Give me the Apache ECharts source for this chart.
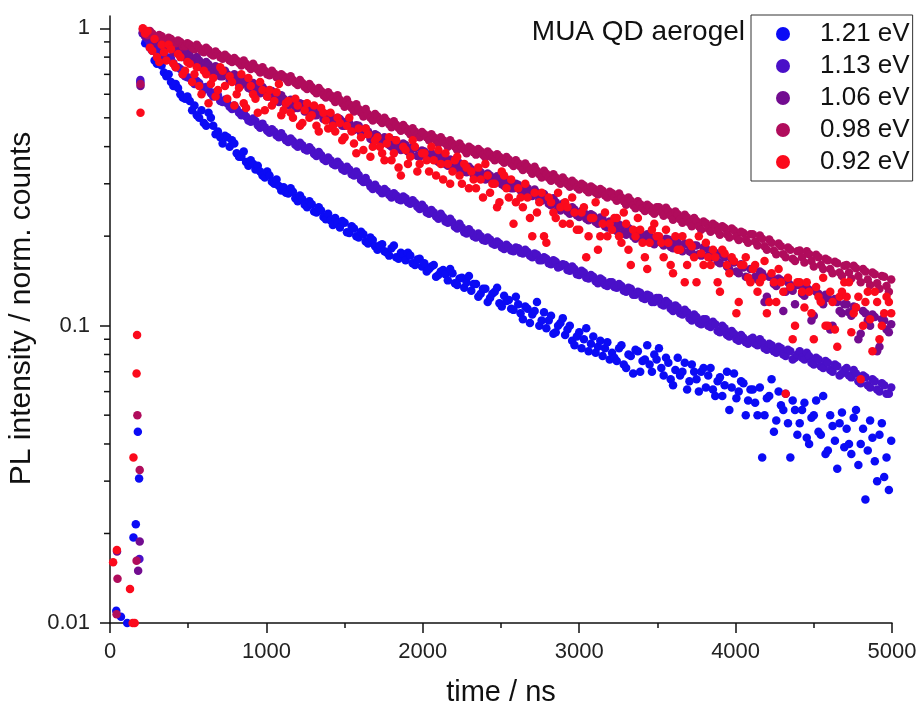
<!DOCTYPE html>
<html><head><meta charset="utf-8">
<script src="https://cdn.jsdelivr.net/npm/echarts@6/dist/echarts.min.js"></script>
<style>html,body{margin:0;padding:0;background:#fff}#c{width:919px;height:707px}</style>
</head><body><div id="c"></div>
<script>
// time bins (ns), even set
const times = [210,240,270,300,330,360,390,420,450,480,
510,540,570,600,630,660,690,720,750,780,
810,840,870,900,930,960,990,1020,1050,1080,
1110,1140,1170,1200,1230,1260,1290,1320,1350,1380,
1410,1440,1470,1500,1530,1560,1590,1620,1650,1680,
1710,1740,1770,1800,1830,1860,1890,1920,1950,1980,
2010,2040,2070,2100,2130,2160,2190,2220,2250,2280,
2310,2340,2370,2400,2430,2460,2490,2520,2550,2580,
2610,2640,2670,2700,2730,2760,2790,2820,2850,2880,
2910,2940,2970,3000,3030,3060,3090,3120,3150,3180,
3210,3240,3270,3300,3330,3360,3390,3420,3450,3480,
3510,3540,3570,3600,3630,3660,3690,3720,3750,3780,
3810,3840,3870,3900,3930,3960,3990,4020,4050,4080,
4110,4140,4170,4200,4230,4260,4290,4320,4350,4380,
4410,4440,4470,4500,4530,4560,4590,4620,4650,4680,
4710,4740,4770,4800,4830,4860,4890,4920,4950,4980];
// time bins (ns), odd set
const timesB = [225,255,285,315,345,375,405,435,465,495,
525,555,585,615,645,675,705,735,765,795,
825,855,885,915,945,975,1005,1035,1065,1095,
1125,1155,1185,1215,1245,1275,1305,1335,1365,1395,
1425,1455,1485,1515,1545,1575,1605,1635,1665,1695,
1725,1755,1785,1815,1845,1875,1905,1935,1965,1995,
2025,2055,2085,2115,2145,2175,2205,2235,2265,2295,
2325,2355,2385,2415,2445,2475,2505,2535,2565,2595,
2625,2655,2685,2715,2745,2775,2805,2835,2865,2895,
2925,2955,2985,3015,3045,3075,3105,3135,3165,3195,
3225,3255,3285,3315,3345,3375,3405,3435,3465,3495,
3525,3555,3585,3615,3645,3675,3705,3735,3765,3795,
3825,3855,3885,3915,3945,3975,4005,4035,4065,4095,
4125,4155,4185,4215,4245,4275,4305,4335,4365,4395,
4425,4455,4485,4515,4545,4575,4605,4635,4665,4695,
4725,4755,4785,4815,4845,4875,4905,4935,4965,4995];

const seriesNames = ['1.21 eV','1.13 eV','1.06 eV','0.98 eV','0.92 eV'];
const seriesColors = ['#0b0bf5','#4a10c8','#720c90','#b00c5c','#fb0a1c'];

const pl121 = [0.96,0.90,0.84,0.76,0.75,0.69,0.66,0.65,0.60,0.58,
0.57,0.55,0.50,0.48,0.52,0.47,0.45,0.41,0.43,0.42,
0.38,0.37,0.355,0.36,0.335,0.33,0.315,0.32,0.30,0.295,
0.292,0.278,0.282,0.262,0.266,0.25,0.256,0.24,0.244,0.228,
0.226,0.23,0.214,0.222,0.205,0.212,0.198,0.203,0.189,0.194,
0.18,0.188,0.176,0.182,0.17,0.176,0.166,0.172,0.16,0.168,
0.162,0.155,0.16,0.148,0.154,0.142,0.15,0.137,0.145,0.14,
0.131,0.138,0.128,0.133,0.124,0.13,0.119,0.126,0.122,0.113,
0.118,0.105,0.114,0.109,0.12,0.104,0.098,0.108,0.095,0.102,
0.093,0.1,0.086,0.095,0.09,0.082,0.092,0.085,0.079,0.088,
0.081,0.076,0.086,0.072,0.079,0.083,0.07,0.077,0.074,0.08,
0.084,0.068,0.075,0.063,0.078,0.07,0.061,0.074,0.066,0.07,
0.062,0.072,0.058,0.067,0.063,0.052,0.069,0.06,0.064,0.056,
0.061,0.05,0.036,0.057,0.066,0.048,0.054,0.059,0.036,0.052,
0.047,0.055,0.04,0.05,0.044,0.058,0.038,0.046,0.033,0.051,
0.045,0.037,0.052,0.04,0.026,0.048,0.035,0.043,0.031,0.028];
const pl121b = [0.89,0.86,0.78,0.78,0.71,0.70,0.64,0.63,0.585,0.59,
0.53,0.51,0.53,0.47,0.50,0.44,0.43,0.435,0.40,0.41,
0.37,0.385,0.345,0.35,0.345,0.32,0.33,0.305,0.31,0.285,
0.28,0.29,0.268,0.274,0.255,0.262,0.242,0.25,0.232,0.238,
0.218,0.222,0.225,0.206,0.216,0.2,0.207,0.192,0.198,0.185,
0.186,0.178,0.172,0.186,0.168,0.174,0.176,0.162,0.167,0.158,
0.152,0.158,0.146,0.152,0.149,0.155,0.139,0.144,0.134,0.147,
0.138,0.125,0.133,0.12,0.128,0.134,0.116,0.121,0.114,0.125,
0.11,0.116,0.102,0.112,0.1,0.111,0.104,0.094,0.1,0.106,
0.097,0.089,0.092,0.084,0.098,0.087,0.081,0.089,0.084,0.077,
0.078,0.084,0.074,0.08,0.069,0.082,0.076,0.086,0.07,0.077,
0.072,0.078,0.066,0.071,0.068,0.075,0.065,0.07,0.06,0.072,
0.068,0.061,0.065,0.058,0.07,0.062,0.057,0.065,0.05,0.061,
0.055,0.062,0.05,0.058,0.044,0.06,0.052,0.047,0.056,0.043,
0.052,0.042,0.049,0.056,0.043,0.037,0.05,0.041,0.047,0.039,
0.04,0.049,0.034,0.045,0.038,0.042,0.03,0.047,0.036,0.041];

const pl113 = [0.96,0.92,0.91,0.86,0.85,0.80,0.79,0.74,0.73,0.69,
0.68,0.65,0.655,0.62,0.625,0.59,0.595,0.565,0.56,0.535,
0.535,0.51,0.505,0.485,0.488,0.463,0.465,0.445,0.45,0.43,
0.432,0.415,0.418,0.4,0.404,0.388,0.39,0.372,0.375,0.358,
0.36,0.346,0.348,0.332,0.335,0.32,0.321,0.304,0.303,0.288,
0.29,0.279,0.283,0.27,0.274,0.264,0.268,0.257,0.259,0.247,
0.249,0.238,0.24,0.229,0.232,0.222,0.223,0.212,0.214,0.204,
0.206,0.198,0.2,0.193,0.195,0.187,0.189,0.181,0.184,0.178,
0.182,0.175,0.177,0.17,0.173,0.166,0.168,0.161,0.164,0.158,
0.16,0.153,0.155,0.148,0.151,0.144,0.146,0.139,0.142,0.136,
0.14,0.134,0.136,0.13,0.133,0.127,0.129,0.123,0.126,0.12,
0.124,0.117,0.119,0.112,0.115,0.109,0.111,0.104,0.107,0.101,
0.105,0.099,0.101,0.095,0.098,0.092,0.094,0.089,0.091,0.087,
0.091,0.086,0.088,0.083,0.086,0.081,0.084,0.079,0.082,0.078,
0.082,0.077,0.079,0.074,0.077,0.072,0.075,0.07,0.073,0.069,
0.072,0.067,0.069,0.064,0.067,0.062,0.065,0.06,0.063,0.059];
const pl113b = [0.94,0.89,0.88,0.845,0.82,0.795,0.765,0.74,0.70,0.685,
0.665,0.665,0.635,0.635,0.605,0.61,0.57,0.575,0.545,0.55,
0.52,0.52,0.49,0.497,0.472,0.478,0.452,0.458,0.436,0.444,
0.42,0.426,0.406,0.412,0.392,0.398,0.378,0.384,0.363,0.368,
0.35,0.356,0.336,0.342,0.323,0.33,0.309,0.314,0.294,0.298,
0.284,0.288,0.275,0.279,0.266,0.272,0.26,0.264,0.251,0.255,
0.24,0.245,0.233,0.238,0.224,0.229,0.215,0.22,0.206,0.211,
0.2,0.204,0.194,0.198,0.189,0.192,0.183,0.187,0.179,0.183,
0.176,0.18,0.172,0.175,0.166,0.17,0.162,0.166,0.157,0.161,
0.154,0.158,0.149,0.153,0.145,0.148,0.141,0.144,0.137,0.14,
0.135,0.138,0.131,0.134,0.127,0.13,0.124,0.127,0.12,0.124,
0.118,0.121,0.114,0.117,0.11,0.113,0.106,0.109,0.102,0.105,
0.1,0.103,0.096,0.1,0.093,0.096,0.09,0.093,0.088,0.09,
0.087,0.09,0.084,0.087,0.082,0.085,0.08,0.083,0.077,0.08,
0.078,0.081,0.075,0.078,0.073,0.076,0.071,0.074,0.068,0.071,
0.068,0.071,0.065,0.068,0.063,0.066,0.061,0.064,0.059,0.062];

const pl106 = [0.97,0.94,0.94,0.90,0.90,0.86,0.87,0.83,0.84,0.80,
0.81,0.77,0.78,0.74,0.755,0.71,0.72,0.69,0.70,0.665,
0.68,0.645,0.66,0.625,0.64,0.605,0.62,0.59,0.60,0.565,
0.58,0.55,0.57,0.54,0.555,0.525,0.54,0.51,0.52,0.495,
0.51,0.48,0.495,0.47,0.48,0.455,0.47,0.44,0.45,0.42,
0.435,0.41,0.425,0.40,0.415,0.39,0.405,0.38,0.395,0.37,
0.385,0.365,0.375,0.355,0.368,0.345,0.358,0.337,0.346,0.328,
0.336,0.32,0.328,0.31,0.32,0.302,0.312,0.295,0.305,0.29,
0.298,0.282,0.29,0.273,0.28,0.263,0.27,0.254,0.26,0.244,
0.252,0.238,0.246,0.232,0.24,0.226,0.234,0.22,0.228,0.214,
0.222,0.208,0.216,0.202,0.21,0.196,0.205,0.193,0.2,0.188,
0.198,0.186,0.195,0.182,0.19,0.178,0.188,0.176,0.186,0.172,
0.182,0.17,0.176,0.162,0.17,0.155,0.163,0.15,0.157,0.145,
0.155,0.143,0.15,0.125,0.146,0.136,0.142,0.13,0.137,0.118,
0.137,0.126,0.132,0.108,0.128,0.118,0.124,0.1,0.12,0.11,
0.118,0.108,0.115,0.094,0.11,0.1,0.107,0.085,0.104,0.095];
const pl106b = [0.94,0.96,0.90,0.92,0.86,0.89,0.83,0.86,0.80,0.83,
0.775,0.80,0.74,0.77,0.72,0.745,0.69,0.72,0.67,0.70,
0.65,0.675,0.63,0.655,0.61,0.635,0.59,0.615,0.57,0.595,
0.555,0.575,0.54,0.56,0.525,0.545,0.51,0.53,0.495,0.515,
0.485,0.5,0.47,0.487,0.455,0.472,0.445,0.46,0.425,0.44,
0.415,0.43,0.405,0.42,0.395,0.41,0.385,0.4,0.372,0.388,
0.37,0.38,0.36,0.372,0.35,0.362,0.34,0.352,0.33,0.342,
0.322,0.333,0.315,0.325,0.306,0.318,0.299,0.31,0.29,0.3,
0.285,0.296,0.276,0.287,0.266,0.277,0.257,0.268,0.247,0.257,
0.242,0.25,0.235,0.243,0.229,0.237,0.223,0.231,0.216,0.224,
0.211,0.219,0.205,0.213,0.2,0.208,0.196,0.203,0.19,0.198,
0.19,0.196,0.184,0.192,0.18,0.189,0.178,0.186,0.174,0.183,
0.172,0.179,0.164,0.173,0.158,0.167,0.152,0.161,0.146,0.155,
0.146,0.152,0.12,0.146,0.138,0.144,0.112,0.14,0.131,0.137,
0.128,0.134,0.104,0.13,0.121,0.127,0.097,0.123,0.112,0.118,
0.111,0.116,0.09,0.112,0.104,0.109,0.082,0.105,0.097,0.101];

const pl098 = [0.99,0.95,0.96,0.93,0.94,0.91,0.92,0.89,0.90,0.87,
0.88,0.85,0.86,0.83,0.845,0.81,0.82,0.79,0.80,0.77,
0.78,0.75,0.76,0.73,0.74,0.71,0.72,0.695,0.705,0.68,
0.69,0.66,0.67,0.645,0.655,0.625,0.635,0.605,0.615,0.585,
0.595,0.565,0.575,0.545,0.555,0.525,0.535,0.505,0.515,0.49,
0.505,0.48,0.488,0.465,0.474,0.452,0.462,0.44,0.45,0.43,
0.44,0.42,0.43,0.41,0.42,0.4,0.41,0.39,0.4,0.38,
0.394,0.376,0.386,0.368,0.378,0.36,0.37,0.353,0.362,0.344,
0.352,0.334,0.342,0.324,0.332,0.315,0.324,0.307,0.315,0.3,
0.308,0.293,0.302,0.287,0.296,0.281,0.29,0.276,0.284,0.27,
0.279,0.263,0.27,0.255,0.263,0.248,0.256,0.243,0.251,0.238,
0.25,0.234,0.243,0.227,0.237,0.222,0.231,0.216,0.225,0.21,
0.221,0.207,0.217,0.202,0.213,0.198,0.209,0.194,0.205,0.19,
0.203,0.186,0.196,0.18,0.19,0.174,0.185,0.17,0.18,0.165,
0.179,0.163,0.174,0.158,0.17,0.155,0.166,0.15,0.162,0.147,
0.16,0.144,0.156,0.14,0.152,0.137,0.149,0.133,0.146,0.13];
const pl098b = [0.97,0.98,0.93,0.95,0.91,0.93,0.89,0.91,0.87,0.89,
0.86,0.88,0.84,0.86,0.82,0.835,0.80,0.815,0.78,0.795,
0.765,0.78,0.745,0.76,0.725,0.74,0.70,0.72,0.685,0.70,
0.675,0.69,0.655,0.67,0.635,0.65,0.615,0.63,0.595,0.61,
0.58,0.595,0.56,0.575,0.54,0.555,0.52,0.535,0.50,0.515,
0.49,0.5,0.476,0.487,0.462,0.473,0.45,0.461,0.438,0.448,
0.43,0.44,0.42,0.43,0.41,0.42,0.4,0.41,0.39,0.4,
0.383,0.393,0.375,0.385,0.367,0.377,0.359,0.369,0.351,0.36,
0.342,0.351,0.333,0.342,0.323,0.332,0.314,0.323,0.306,0.315,
0.299,0.307,0.292,0.3,0.286,0.294,0.28,0.288,0.274,0.282,
0.27,0.278,0.262,0.27,0.254,0.262,0.248,0.255,0.242,0.25,
0.241,0.249,0.234,0.242,0.228,0.236,0.222,0.23,0.216,0.224,
0.212,0.22,0.208,0.216,0.203,0.212,0.199,0.207,0.195,0.203,
0.192,0.201,0.185,0.195,0.179,0.189,0.174,0.183,0.168,0.178,
0.17,0.178,0.165,0.173,0.16,0.168,0.155,0.164,0.151,0.159,
0.151,0.159,0.147,0.155,0.143,0.151,0.139,0.147,0.136,0.143];

const pl092 = [1.0,0.98,0.84,0.80,0.88,0.78,0.85,0.74,0.80,0.72,
0.76,0.70,0.64,0.72,0.56,0.68,0.62,0.72,0.58,0.66,
0.60,0.70,0.54,0.64,0.58,0.66,0.53,0.62,0.57,0.65,
0.53,0.57,0.50,0.55,0.48,0.56,0.51,0.47,0.54,0.49,
0.52,0.45,0.48,0.43,0.50,0.41,0.46,0.39,0.44,0.40,
0.43,0.38,0.41,0.36,0.42,0.32,0.39,0.37,0.40,0.35,
0.38,0.33,0.36,0.39,0.31,0.35,0.33,0.37,0.30,0.34,
0.33,0.29,0.31,0.35,0.28,0.30,0.26,0.32,0.27,0.22,
0.29,0.25,0.27,0.2,0.24,0.28,0.19,0.26,0.23,0.25,
0.26,0.22,0.24,0.21,0.25,0.2,0.23,0.18,0.22,0.2,
0.21,0.23,0.19,0.22,0.16,0.2,0.21,0.17,0.19,0.22,
0.2,0.17,0.19,0.15,0.18,0.2,0.16,0.185,0.14,0.175,
0.19,0.16,0.17,0.13,0.175,0.15,0.165,0.12,0.16,0.145,
0.155,0.13,0.145,0.11,0.15,0.12,0.14,0.059,0.135,0.1,
0.14,0.115,0.13,0.09,0.125,0.145,0.1,0.12,0.085,0.13,
0.125,0.095,0.115,0.066,0.12,0.105,0.13,0.09,0.11,0.12];
const pl092b = [0.96,0.86,0.92,0.77,0.83,0.88,0.76,0.82,0.70,0.77,
0.66,0.74,0.60,0.70,0.65,0.59,0.74,0.64,0.69,0.55,
0.63,0.56,0.68,0.60,0.52,0.62,0.59,0.55,0.61,0.51,
0.56,0.52,0.58,0.47,0.53,0.50,0.55,0.45,0.52,0.46,
0.47,0.5,0.42,0.47,0.45,0.38,0.43,0.46,0.37,0.42,
0.4,0.36,0.43,0.38,0.34,0.4,0.35,0.42,0.33,0.38,
0.36,0.4,0.32,0.35,0.38,0.3,0.36,0.32,0.35,0.29,
0.31,0.34,0.27,0.32,0.3,0.25,0.33,0.29,0.31,0.26,
0.27,0.3,0.23,0.28,0.26,0.2,0.27,0.24,0.28,0.22,
0.25,0.27,0.21,0.24,0.17,0.23,0.26,0.2,0.24,0.22,
0.23,0.2,0.24,0.18,0.21,0.23,0.19,0.155,0.21,0.2,
0.19,0.21,0.16,0.2,0.18,0.14,0.19,0.17,0.2,0.16,
0.17,0.18,0.14,0.18,0.16,0.17,0.11,0.16,0.17,0.14,
0.16,0.14,0.165,0.12,0.14,0.155,0.13,0.145,0.09,0.14,
0.13,0.14,0.11,0.135,0.12,0.1,0.13,0.097,0.125,0.14,
0.14,0.11,0.125,0.1,0.13,0.082,0.12,0.1,0.125,0.11];

// rising edge before the peak: [time, value]
const rise121 = [[40,0.011],[70,0.0105],[110,0.01],[150,0.0194],[165,0.0215],[178,0.044],[186,0.0306],[194,0.66]];
const rise113 = [[188,0.0164],[194,0.67]];
const rise106 = [[45,0.0174],[180,0.015],[190,0.0188],[195,0.64]];
const rise098 = [[42,0.0107],[48,0.0141],[170,0.0162],[175,0.05],[190,0.0327],[195,0.65]];
const rise092 = [[20,0.016],[44,0.0176],[128,0.013],[145,0.01],[158,0.01],[150,0.036],[170,0.069],[173,0.093],[195,0.52]];

const Y_MIN = 0.01, Y_MAX = 1.1;
const yMinorTicks = [0.02,0.03,0.04,0.05,0.06,0.07,0.08,0.09,0.2,0.3,0.4,0.5,0.6,0.7,0.8,0.9];

const mainsA = [pl121, pl113, pl106, pl098, pl092];
const mainsB = [pl121b, pl113b, pl106b, pl098b, pl092b];
const rises = [rise121, rise113, rise106, rise098, rise092];

const FONT = '"Liberation Sans", Arial, sans-serif';
const chart = echarts.init(document.getElementById('c'), null, {renderer: 'canvas'});

const series = seriesNames.map((name, k) => {
  const pts = rises[k].slice();
  times.forEach((t, i) => {
    pts.push([t, mainsA[k][i]]);
    pts.push([timesB[i], mainsB[k][i]]);
  });
  return {
    name: name,
    type: 'scatter',
    xAxisIndex: 0, yAxisIndex: 0,
    symbol: 'circle',
    symbolSize: 8.5,
    itemStyle: {color: seriesColors[k], opacity: 1},
    emphasis: {disabled: true},
    data: pts
  };
});
// empty helper on the hidden overlay grid (decade-exponent scale used to place the minor ticks)
series.push({type: 'scatter', xAxisIndex: 1, yAxisIndex: 1, data: [], silent: true});

const tickStyle = {color: '#111', width: 1.5};
const gridRect = {left: 110, right: 27, top: 16, bottom: 84, containLabel: false, outerBoundsMode: 'none'};
chart.setOption({
  animation: false,
  backgroundColor: '#fff',
  textStyle: {fontFamily: FONT},
  title: {
    text: 'MUA QD aerogel',
    right: 174, top: 18, padding: 0,
    textStyle: {fontFamily: FONT, fontSize: 28, fontWeight: 'normal', color: '#111'}
  },
  legend: {
    data: seriesNames,
    orient: 'vertical',
    left: 751, top: 15,
    padding: [6, 3, 6, 25],
    itemGap: 6,
    itemWidth: 40, itemHeight: 14,
    icon: 'circle',
    borderColor: '#333', borderWidth: 1,
    textStyle: {fontFamily: FONT, fontSize: 26, color: '#111', lineHeight: 26, padding: [0, 0, 0, 12]}
  },
  grid: [Object.assign({}, gridRect), Object.assign({}, gridRect)],
  xAxis: [{
    gridIndex: 0,
    type: 'value', min: 0, max: 5000, interval: 1000, position: 'bottom',
    name: 'time / ns', nameLocation: 'middle', nameGap: 55,
    nameTextStyle: {fontFamily: FONT, fontSize: 29, color: '#111'},
    axisLine: {show: true, lineStyle: tickStyle},
    axisTick: {show: true, length: 10, lineStyle: tickStyle},
    minorTick: {show: true, splitNumber: 2, length: 5, lineStyle: tickStyle},
    axisLabel: {fontFamily: FONT, fontSize: 22, color: '#222', margin: 18, formatter: v => String(v)},
    splitLine: {show: false}
  }, {
    gridIndex: 1, type: 'value', min: 0, max: 5000, show: false
  }],
  yAxis: [{
    gridIndex: 0,
    type: 'log', min: Y_MIN, max: Y_MAX, position: 'left', logBase: 10,
    name: 'PL intensity / norm. counts', nameLocation: 'middle', nameGap: 56, nameRotate: 90,
    nameTextStyle: {fontFamily: FONT, fontSize: 30, color: '#111', padding: [0, 0, 0, 22]},
    axisLine: {show: true, lineStyle: tickStyle},
    axisTick: {show: true, length: 10, lineStyle: tickStyle},
    axisLabel: {fontFamily: FONT, fontSize: 22, color: '#222', margin: 20,
      formatter: v => String(+(+v).toPrecision(3))},
    splitLine: {show: false}
  }, {
    gridIndex: 1,
    type: 'value', min: Math.log10(Y_MIN), max: Math.log10(Y_MAX), position: 'left', show: false
  }],
  series: series
});

// minor ticks (2..9 x decade) placed through the overlay axis scale
const MINOR_LEN = 6;
let axisX = chart.convertToPixel({xAxisIndex: 0}, 0);
if (!Number.isFinite(axisX)) axisX = gridRect.left;
const minorEls = [];
yMinorTicks.forEach(v => {
  let py = chart.convertToPixel({yAxisIndex: 1}, Math.log10(v));
  if (!Number.isFinite(py)) {
    const h = 707 - gridRect.top - gridRect.bottom;
    const e0 = Math.log10(Y_MIN), e1 = Math.log10(Y_MAX);
    py = gridRect.top + (e1 - Math.log10(v)) / (e1 - e0) * h;
  }
  minorEls.push({type: 'line', silent: true, z: 100,
    shape: {x1: axisX - MINOR_LEN, y1: py, x2: axisX, y2: py},
    style: {stroke: '#111', lineWidth: 1.5}});
});
chart.setOption({graphic: minorEls});
</script></body></html>
